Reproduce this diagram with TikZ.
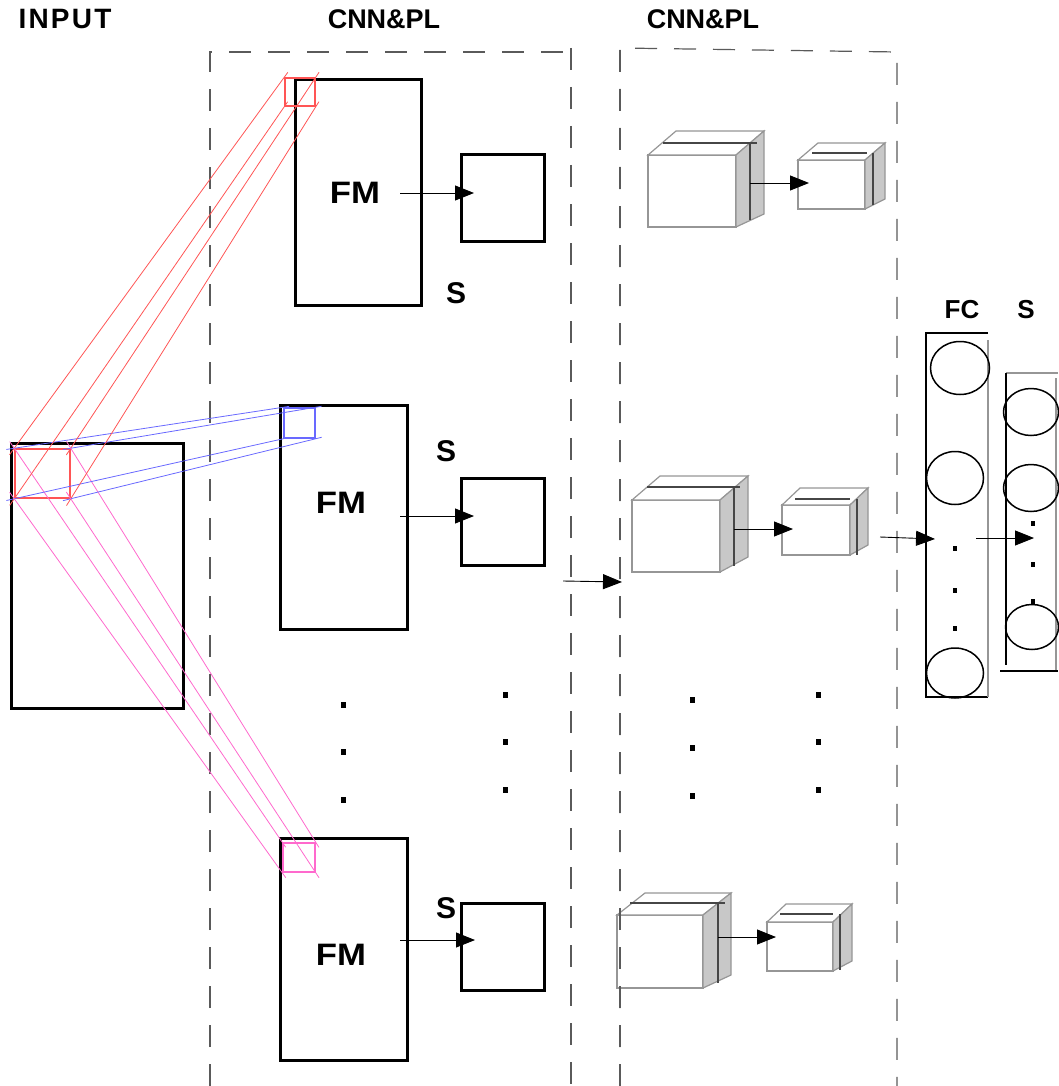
\documentclass[tikz,border=0pt]{standalone}
\usepackage{fontspec}
\setmainfont{Liberation Sans}
\usetikzlibrary{arrows.meta}
\definecolor{cred}{RGB}{255,85,85}
\definecolor{cblue}{RGB}{105,105,255}
\definecolor{cpink}{RGB}{255,105,205}
\definecolor{cubeedge}{RGB}{150,150,150}
\definecolor{cubeside}{RGB}{200,200,200}
\definecolor{cubedark}{RGB}{70,70,70}
\definecolor{framegray}{RGB}{90,90,90}
\tikzset{
  thickbox/.style={draw=black,line width=3pt,minimum width=#1},
  title/.style={font=\bfseries\fontsize{27}{30}\selectfont,inner sep=0pt},
  fmlabel/.style={font=\bfseries\fontsize{31}{34}\selectfont,inner sep=0pt,xscale=1.12},
  slabel/.style={font=\bfseries\fontsize{30}{33}\selectfont,inner sep=0pt},
  frameline/.style={draw=framegray,line width=1.2pt,dash pattern=on 22pt off 17pt},
  arr/.style={draw=black,line width=0.9pt,-{Triangle[length=19pt,width=15pt]}},
  patch/.style={draw=#1,line width=1.5pt,inner sep=0pt},
  proj/.style={draw=#1,line width=0.8pt,shorten <=-8pt,shorten >=-6pt},
  dotsq/.style={fill=black},
  neuron/.style={draw=black,line width=1.5pt,ellipse},
}
% cube: x1 y1 x2 y2 dx dyt dyb ; dark line start hx1 hy
\newcommand{\mycube}[9]{%
  \fill[white,draw=cubeedge,line width=1.2pt] (#1,#2) rectangle (#3,#4);
  \fill[white,draw=cubeedge,line width=1.2pt] (#1,#2) -- ++(#5,#6) -- ($(#3,#2)+(#5,#6)$) -- (#3,#2) -- cycle;
  \fill[cubeside,draw=cubeedge,line width=1.2pt] (#3,#2) -- ($(#3,#2)+(#5,#6)$) -- ($(#3,#4)+(#5,#7)$) -- (#3,#4) -- cycle;
  \draw[cubedark,line width=1.8pt] (#8,#9) -- ++(\hlen,0);
  \draw[cubedark,line width=1.5pt] (\vx,#9) -- (\vx,\vyb);
}
\usetikzlibrary{calc,shapes.geometric}
\begin{document}
\begin{tikzpicture}[x=1pt,y=-1pt]
\useasboundingbox (0,0) rectangle (1058,1086);

% titles
\node[title,font=\bfseries\fontsize{28}{30}\selectfont\addfontfeatures{LetterSpace=8}] (tin) at (65,19) {INPUT};
\node[title] (tc1) at (384,19) {CNN\&PL};
\node[title] (tc2) at (703,19) {CNN\&PL};

% dashed frames
\draw[frameline] (210,1086) -- (210,52) -- (571,52);
\draw[frameline] (571,48) -- (571,1086);
\draw[frameline] (620,1086) -- (620,48) -- (897,52) -- (897,1086);

% input
\node[thickbox=172pt,minimum height=265pt,inner sep=0pt] (inbox) at (97,575.5) {};

% feature maps
\node[thickbox=126pt,minimum height=225pt,inner sep=0pt] (fm1) at (358,192.5) {};
\node[thickbox=127pt,minimum height=224pt,inner sep=0pt] (fm2) at (343.5,517) {};
\node[thickbox=127pt,minimum height=222pt,inner sep=0pt] (fm3) at (343.5,949) {};
\node[fmlabel] (fmt1) at (355,193) {FM};
\node[fmlabel] (fmt2) at (341,503) {FM};
\node[fmlabel] (fmt3) at (341,955) {FM};

% pooled squares
\node[thickbox=83pt,minimum height=86pt,inner sep=0pt] (sq1) at (502.5,198) {};
\node[thickbox=83pt,minimum height=87pt,inner sep=0pt] (sq2) at (502.5,521.5) {};
\node[thickbox=83pt,minimum height=87pt,inner sep=0pt] (sq3) at (502.5,946.5) {};
\node[slabel] (s1) at (456,293) {S};
\node[slabel] (s2) at (446,451) {S};
\node[slabel] (s3) at (446,908) {S};

\coordinate (a1s) at (400,193); \coordinate (a1e) at (474,193);
\coordinate (a2s) at (400,516); \coordinate (a2e) at (474,516);
\coordinate (a3s) at (400,940); \coordinate (a3e) at (475,940);
\draw[arr] (a1s) -- (a1e);
\draw[arr] (a2s) -- (a2e);
\draw[arr] (a3s) -- (a3e);

% patches
\node[patch=cred,minimum width=55pt,minimum height=49pt] (pin) at (42.5,473.5) {};
\node[patch=cred,minimum width=30pt,minimum height=28pt] (pr) at (300,92) {};
\node[patch=cblue,minimum width=31pt,minimum height=30pt] (pb) at (299.5,423) {};
\node[patch=cpink,minimum width=32pt,minimum height=29pt] (pp) at (299,857.5) {};

\foreach \c in {north west,north east,south west,south east}{
  \draw[proj=cred] (pin.\c) -- (pr.\c);
  \draw[proj=cblue] (pin.\c) -- (pb.\c);
  \draw[proj=cpink] (pin.\c) -- (pp.\c);
}

% dots
\foreach \x/\y in {343/705,343/752,343/800,505/695,505/742,505/790,692/700,692/748,692/796,818/695,818/742,818/790}{
  \fill[dotsq] (\x-2.5,\y-3) rectangle (\x+2.5,\y+3);
}

% arrow between frames
\coordinate (m1) at (563,581); \coordinate (m2) at (622,582);
\draw[arr] (m1) -- (m2);

% cubes
\def\hlen{94}\def\vx{750}\def\vyb{220}
\mycube{648}{155}{736}{227}{28}{-24}{-13}{663}{143}
\def\hlen{55}\def\vx{873}\def\vyb{205}
\mycube{798}{160}{865}{209}{20}{-17}{-10}{812}{153}
\def\hlen{93}\def\vx{734}\def\vyb{566}
\mycube{632}{500}{720}{572}{28}{-24}{-15}{647}{487}
\def\hlen{55}\def\vx{857}\def\vyb{555}
\mycube{782}{505}{850}{555}{18}{-17}{-10}{795}{499}
\def\hlen{95}\def\vx{718}\def\vyb{983}
\mycube{617}{915}{703}{988}{28}{-22}{-13}{630}{903}
\def\hlen{53}\def\vx{840}\def\vyb{970}
\mycube{767}{922}{833}{971}{19}{-18}{-10}{780}{914}
\draw[frameline] (620,1086) -- (620,48);

\coordinate (c1s) at (750,183); \coordinate (c1e) at (809,183);
\coordinate (c2s) at (734,529); \coordinate (c2e) at (793,529);
\coordinate (c3s) at (718,937); \coordinate (c3e) at (776,937);
\draw[arr] (c1s) -- (c1e);
\draw[arr] (c2s) -- (c2e);
\draw[arr] (c3s) -- (c3e);

% FC column
\node[slabel,font=\bfseries\fontsize{26}{30}\selectfont] (fct) at (962,310) {FC};
\node[slabel,font=\bfseries\fontsize{26}{30}\selectfont] (st) at (1026,310) {S};
\draw[black,line width=1.2pt] (988,333) -- (926,333) -- (926,697) -- (988,697);
\draw[cubeedge,line width=1.5pt] (988,340) -- (988,697);
\node[neuron,minimum width=59pt,minimum height=53pt,inner sep=0pt] (f1) at (960,368) {};
\node[neuron,minimum width=57pt,minimum height=53pt,inner sep=0pt] (f2) at (955,478) {};
\node[neuron,minimum width=57pt,minimum height=50pt,inner sep=0pt] (f3) at (955,673) {};
\foreach \y in {548,590,628}{ \fill[dotsq] (953,\y-2.5) rectangle (957,\y+2.5); }

% S column
\draw[cubeedge,line width=1.2pt] (1006,373) -- (1058,373);
\draw[black,line width=1.2pt] (1006,373) -- (1006,665);
\draw[cubeedge,line width=1.5pt] (1056,378) -- (1056,671);
\draw[black,line width=1.2pt] (1000,671) -- (1058,671);
\node[neuron,minimum width=55pt,minimum height=47pt,inner sep=0pt] (o1) at (1031,412) {};
\node[neuron,minimum width=55pt,minimum height=47pt,inner sep=0pt] (o2) at (1031,488) {};
\node[neuron,minimum width=53pt,minimum height=45pt,inner sep=0pt] (o3) at (1032,627) {};
\foreach \y in {523,564,601}{ \fill[dotsq] (1031,\y-2.5) rectangle (1035,\y+2.5); }

\coordinate (fa1) at (880,537); \coordinate (fa2) at (935,539);
\coordinate (fb1) at (976,538); \coordinate (fb2) at (1034,538);
\draw[arr] (fa1) -- (fa2);
\draw[arr] (fb1) -- (fb2);
\end{tikzpicture}
\end{document}
